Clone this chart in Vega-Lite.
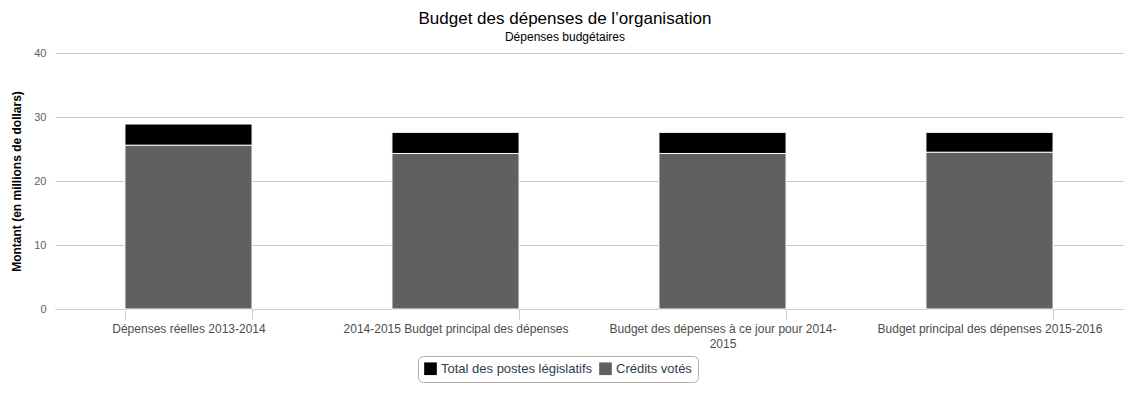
{
  "$schema": "https://vega.github.io/schema/vega-lite/v6.json",
  "width": 1068,
  "height": 256,
  "autosize": {"type": "none"},
  "padding": {"left": 55, "top": 53, "right": 8, "bottom": 84},
  "background": "white",
  "title": {
    "text": "Budget des dépenses de l’organisation",
    "subtitle": "Dépenses budgétaires",
    "anchor": "middle",
    "dx": -24,
    "offset": 3,
    "font": "Liberation Sans",
    "fontSize": 17,
    "fontWeight": "normal",
    "color": "#000000",
    "subtitleFont": "Liberation Sans",
    "subtitleFontSize": 12,
    "subtitleColor": "#000000",
    "subtitlePadding": 4
  },
  "data": {
    "values": [
      {"categorie": "Dépenses réelles 2013-2014", "serie": "Crédits votés", "montant": 25.6},
      {"categorie": "Dépenses réelles 2013-2014", "serie": "Total des postes législatifs", "montant": 3.3},
      {"categorie": "2014-2015 Budget principal des dépenses", "serie": "Crédits votés", "montant": 24.3},
      {"categorie": "2014-2015 Budget principal des dépenses", "serie": "Total des postes législatifs", "montant": 3.3},
      {"categorie": "Budget des dépenses à ce jour pour 2014-2015", "serie": "Crédits votés", "montant": 24.3},
      {"categorie": "Budget des dépenses à ce jour pour 2014-2015", "serie": "Total des postes législatifs", "montant": 3.3},
      {"categorie": "Budget principal des dépenses 2015-2016", "serie": "Crédits votés", "montant": 24.5},
      {"categorie": "Budget principal des dépenses 2015-2016", "serie": "Total des postes législatifs", "montant": 3.1}
    ]
  },
  "mark": {"type": "bar", "stroke": "#ffffff", "strokeWidth": 1},
  "encoding": {
    "x": {
      "field": "categorie",
      "type": "nominal",
      "sort": null,
      "scale": {"paddingInner": 0.524, "paddingOuter": 0.262},
      "axis": {
        "title": null,
        "labelAngle": 0,
        "tickBand": "extent",
        "domainColor": "#C0D0E0",
        "tickColor": "#C0D0E0",
        "tickSize": 10,
        "labelFont": "Liberation Sans",
        "labelFontSize": 12,
        "labelColor": "#4d4d4d",
        "labelPadding": 4,
        "labelLimit": 300,
        "labelLineHeight": 15,
        "labelExpr": "datum.label == 'Budget des dépenses à ce jour pour 2014-2015' ? ['Budget des dépenses à ce jour pour 2014-', '2015'] : datum.label",
        "grid": false
      }
    },
    "y": {
      "field": "montant",
      "type": "quantitative",
      "stack": "zero",
      "scale": {"domain": [0, 40]},
      "axis": {
        "title": "Montant (en millions de dollars)",
        "values": [0, 10, 20, 30, 40],
        "titleFont": "Liberation Sans",
        "titleFontSize": 12,
        "titleFontWeight": "bold",
        "titleColor": "#000000",
        "titlePadding": 10,
        "labelFont": "Liberation Sans",
        "labelFontSize": 11,
        "labelColor": "#606060",
        "labelPadding": 9,
        "domain": false,
        "ticks": false,
        "gridColor": "#C8C8C8",
        "gridWidth": 1
      }
    },
    "color": {
      "field": "serie",
      "type": "nominal",
      "scale": {
        "domain": ["Total des postes législatifs", "Crédits votés"],
        "range": ["#000000", "#606060"]
      },
      "legend": {
        "title": null,
        "orient": "none",
        "direction": "horizontal",
        "legendX": 363,
        "legendY": 303,
        "symbolType": "square",
        "symbolSize": 160,
        "symbolStrokeWidth": 0,
        "labelFont": "Liberation Sans",
        "labelFontSize": 13,
        "labelColor": "#2b3e50",
        "columnPadding": 6,
        "symbolOffset": 0,
        "padding": 6,
        "strokeColor": "#B0B0B0",
        "cornerRadius": 5
      }
    },
    "order": {"field": "serie", "sort": "ascending"}
  },
  "config": {"view": {"stroke": null}}
}
